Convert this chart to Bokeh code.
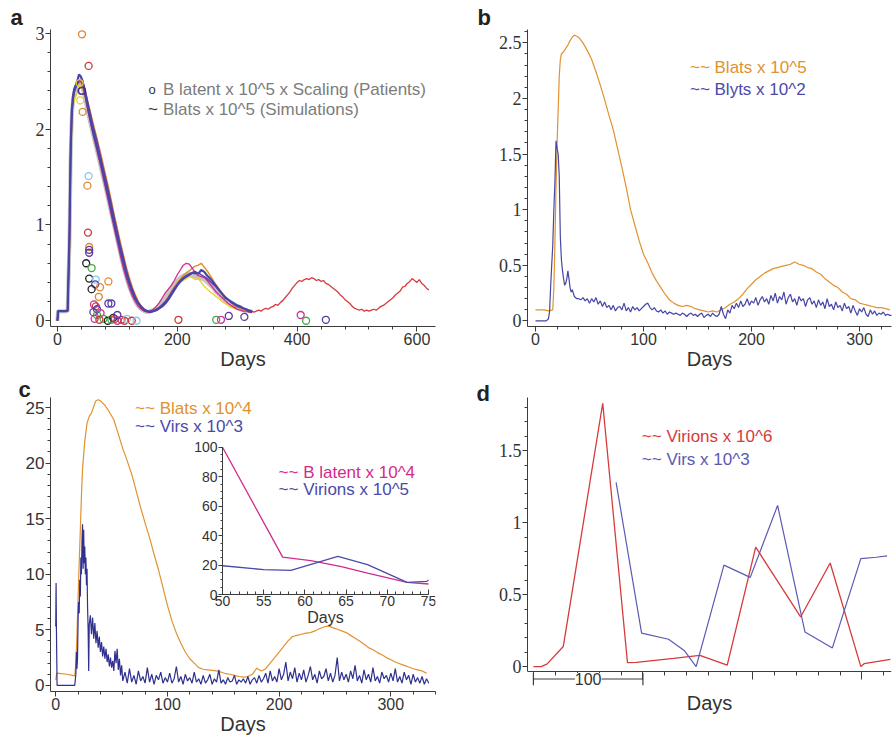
from bokeh.plotting import figure
from bokeh.models import Range1d, LinearAxis, SingleIntervalTicker, FixedTicker, Label
from bokeh.layouts import gridplot
from bokeh.embed import file_html
from bokeh.resources import INLINE

# ---------------- DATA ----------------
# Panel a: simulations (Blats x 10^5) on a shared day grid
a_days = [0, 1, 13, 17, 20, 22, 24, 26, 28, 30, 33, 36, 39, 42, 46, 50] + [55 + 5 * i for i in range(55)]
a_blue = [0.0, 0.1, 0.1, 0.11, 0.9, 1.8, 2.2, 2.35, 2.42, 2.45, 2.5, 2.57, 2.55, 2.5, 2.38, 2.25,
          2.1, 1.96, 1.84, 1.71, 1.58, 1.44, 1.3, 1.15, 1.01, 0.87,
          0.74, 0.61, 0.49, 0.39, 0.3, 0.23, 0.18, 0.14, 0.11, 0.1,
          0.09, 0.1, 0.11, 0.13, 0.15, 0.18, 0.22, 0.27, 0.32, 0.37,
          0.41, 0.44, 0.46, 0.48, 0.5, 0.51, 0.49, 0.53, 0.51, 0.47,
          0.44, 0.4, 0.36, 0.32, 0.28, 0.24, 0.22, 0.2, 0.18, 0.16,
          0.15, 0.13, 0.12, 0.1, 0.09]
a_purple = [0.0, 0.1, 0.1, 0.1, 0.8, 1.7, 2.15, 2.3, 2.38, 2.42, 2.47, 2.5, 2.52, 2.5, 2.42, 2.3,
            2.16, 2.02, 1.9, 1.77, 1.63, 1.5, 1.36, 1.22, 1.07, 0.93,
            0.79, 0.66, 0.53, 0.42, 0.33, 0.25, 0.19, 0.15, 0.12, 0.1,
            0.1, 0.1, 0.12, 0.14, 0.17, 0.2, 0.24, 0.29, 0.34, 0.38,
            0.42, 0.45, 0.47, 0.49, 0.5, 0.49, 0.5, 0.48, 0.46, 0.44,
            0.41, 0.38, 0.35, 0.31, 0.28, 0.25, 0.22, 0.19, 0.17, 0.15,
            0.14, 0.13, 0.12, 0.11, 0.1]
a_orange = [0.0, 0.1, 0.1, 0.1, 0.7, 1.6, 2.1, 2.3, 2.4, 2.45, 2.47, 2.48, 2.5, 2.47, 2.4, 2.3,
            2.18, 2.05, 1.93, 1.8, 1.67, 1.53, 1.4, 1.25, 1.1, 0.96,
            0.82, 0.69, 0.56, 0.45, 0.35, 0.27, 0.2, 0.15, 0.12, 0.1,
            0.09, 0.1, 0.11, 0.13, 0.16, 0.2, 0.25, 0.3, 0.35, 0.4,
            0.43, 0.47, 0.5, 0.52, 0.55, 0.57, 0.58, 0.6, 0.56, 0.52,
            0.47, 0.42, 0.37, 0.33, 0.29, 0.25, 0.22, 0.19, 0.16, 0.14,
            0.13, 0.12, 0.11, 0.1, 0.1]
a_magenta = [0.0, 0.1, 0.1, 0.1, 0.85, 1.75, 2.2, 2.33, 2.4, 2.44, 2.48, 2.52, 2.5, 2.45, 2.35, 2.22,
             2.07, 1.93, 1.8, 1.67, 1.53, 1.39, 1.25, 1.1, 0.96, 0.82,
             0.68, 0.55, 0.44, 0.34, 0.26, 0.2, 0.15, 0.12, 0.1, 0.09,
             0.1, 0.12, 0.15, 0.19, 0.24, 0.29, 0.33, 0.37, 0.42, 0.48,
             0.53, 0.58, 0.6, 0.59, 0.55, 0.5, 0.47, 0.46, 0.45, 0.42,
             0.38, 0.34, 0.3, 0.27, 0.24, 0.21, 0.18, 0.16, 0.14, 0.12,
             0.11, 0.1, 0.1, 0.09, 0.09]
a_gray = [0.0, 0.1, 0.1, 0.1, 0.8, 1.7, 2.15, 2.3, 2.37, 2.42, 2.45, 2.48, 2.47, 2.43, 2.33, 2.2,
          2.06, 1.93, 1.8, 1.67, 1.53, 1.4, 1.26, 1.12, 0.98, 0.84,
          0.7, 0.57, 0.45, 0.35, 0.27, 0.2, 0.15, 0.12, 0.1, 0.09,
          0.1, 0.11, 0.13, 0.16, 0.2, 0.24, 0.29, 0.34, 0.38, 0.42,
          0.45, 0.47, 0.48, 0.49, 0.48, 0.46, 0.45, 0.44, 0.43, 0.4,
          0.37, 0.34, 0.3, 0.27, 0.24, 0.21, 0.19, 0.17, 0.15, 0.13,
          0.12, 0.11, 0.1, 0.1, 0.1]
a_yellow = [0.0, 0.1, 0.1, 0.1, 0.75, 1.65, 2.1, 2.25, 2.3, 2.33, 2.38, 2.42, 2.44, 2.42, 2.35, 2.24,
            2.1, 1.97, 1.84, 1.71, 1.58, 1.44, 1.3, 1.16, 1.02, 0.88,
            0.74, 0.6, 0.48, 0.37, 0.28, 0.21, 0.16, 0.13, 0.11, 0.1,
            0.1, 0.12, 0.15, 0.13, 0.16, 0.2, 0.25, 0.3, 0.34, 0.38,
            0.4, 0.42, 0.44, 0.46, 0.45, 0.43, 0.44, 0.4, 0.36, 0.33,
            0.3, 0.28, 0.25, 0.23, 0.2, 0.18, 0.16, 0.14, 0.13, 0.12,
            0.11, 0.1, 0.1, 0.09, 0.09]
a_red_days = [300 + 4 * i for i in range(81)]
a_red = [0.15, 0.14, 0.13, 0.12, 0.11, 0.1, 0.1, 0.09, 0.1, 0.11,
         0.1, 0.12, 0.13, 0.12, 0.14, 0.15, 0.17, 0.16, 0.19, 0.21,
         0.24, 0.27, 0.3, 0.34, 0.37, 0.4, 0.42, 0.41, 0.43, 0.44,
         0.43, 0.45, 0.44, 0.42, 0.43, 0.41, 0.42, 0.39, 0.38, 0.36,
         0.34, 0.32, 0.3, 0.27, 0.25, 0.22, 0.2, 0.18, 0.15, 0.13,
         0.12, 0.11, 0.12, 0.1, 0.11, 0.1, 0.11, 0.12, 0.11, 0.13,
         0.15, 0.16, 0.18, 0.2, 0.22, 0.24, 0.27, 0.29, 0.31, 0.35,
         0.36, 0.39, 0.41, 0.44, 0.42, 0.4, 0.43, 0.39, 0.37, 0.34, 0.32]
# Panel a: patients (B latent x 10^5 x scaling)
a_pat_days = [41, 52, 37, 41, 40, 38, 42, 52, 50, 51, 53, 53, 53, 48, 57, 53, 64, 85, 63, 57,
              71, 69, 61, 64, 66, 85, 90, 60, 66, 72, 62, 70, 77, 84, 90, 93, 96, 100, 107, 112,
              116, 124, 132, 100, 202, 265, 273, 286, 312, 406, 415, 448]
a_pat_vals = [2.99, 2.66, 2.48, 2.4, 2.4, 2.3, 2.18, 1.51, 1.41, 0.92, 0.77, 0.74, 0.71, 0.6, 0.55, 0.44, 0.43, 0.41, 0.38, 0.33,
              0.35, 0.25, 0.17, 0.15, 0.12, 0.18, 0.18, 0.09, 0.06, 0.08, 0.02, 0.01, 0.02, 0.0, 0.01, 0.03, 0.02, 0.0, 0.01, 0.0,
              0.02, 0.0, 0.0, 0.06, 0.01, 0.01, 0.01, 0.05, 0.04, 0.06, 0.0, 0.01]
a_pat_group = ["orange", "red", "yellow", "black", "purple", "yellow", "orange", "cyan", "orange", "red",
               "orange", "purple", "purple", "black", "green", "black", "cyan", "orange", "purple", "black",
               "orange", "orange", "magenta", "red", "purple", "purple", "purple", "purple", "green", "magenta",
               "magenta", "red", "green", "black", "green", "black", "red", "magenta", "red", "red",
               "cyan", "red", "cyan", "purple", "red", "green", "magenta", "purple", "purple", "magenta",
               "green", "purple"]

# Panel b
b_blats_days = [0, 4, 8, 12, 16, 17, 18, 19, 20, 21, 22, 23, 24, 26, 28, 30, 32, 34, 36, 38] + [40 + 4 * i for i in range(73)]
b_blats = [0.1, 0.1, 0.1, 0.09, 0.1, 0.3, 0.7, 1.2, 1.6, 1.9, 2.2, 2.35, 2.4, 2.42, 2.45, 2.48, 2.52, 2.55, 2.57, 2.56,
           2.55, 2.5, 2.43, 2.35, 2.24, 2.12, 1.99, 1.85, 1.72, 1.55,
           1.38, 1.2, 1.0, 0.86, 0.72, 0.6, 0.52, 0.43, 0.36, 0.3,
           0.24, 0.19, 0.16, 0.14, 0.13, 0.14, 0.13, 0.11, 0.1, 0.09,
           0.08, 0.09, 0.08, 0.1, 0.12, 0.15, 0.17, 0.2, 0.24, 0.29,
           0.33, 0.37, 0.4, 0.43, 0.45, 0.47, 0.48, 0.49, 0.5, 0.51,
           0.53, 0.51, 0.5, 0.48, 0.47, 0.44, 0.42, 0.38, 0.35, 0.32,
           0.3, 0.26, 0.24, 0.2, 0.19, 0.16, 0.15, 0.14, 0.13, 0.12,
           0.12, 0.11, 0.1]
b_blyts_early_days = [0, 10, 12, 13, 14, 15, 16, 17, 18, 19, 20, 21, 22, 23, 24, 25, 26, 27, 28, 29, 30, 31, 32, 33, 34, 36, 38]
b_blyts_early = [0, 0, 0.02, 0.08, 0.3, 0.5, 0.68, 1.0, 1.25, 1.62, 1.55, 1.5, 1.3, 0.75, 0.55, 0.45, 0.38, 0.32, 0.34, 0.38,
                 0.45, 0.38, 0.3, 0.26, 0.28, 0.22, 0.2]
b_blyts_late = [0.2, 0.19, 0.21, 0.18, 0.2, 0.16, 0.2, 0.17, 0.21, 0.15, 0.18, 0.13, 0.17, 0.12, 0.14, 0.1,
                0.14, 0.09, 0.12, 0.13, 0.1, 0.16, 0.09, 0.12, 0.08, 0.13, 0.1, 0.12, 0.09, 0.11, 0.13, 0.15, 0.16, 0.12, 0.1, 0.12, 0.09, 0.08, 0.1, 0.07, 0.09, 0.06, 0.08, 0.07, 0.06, 0.07,
                0.06, 0.05, 0.07, 0.06, 0.04, 0.06, 0.07, 0.05, 0.06, 0.04, 0.06, 0.07, 0.03, 0.05, 0.06, 0.04, 0.07, 0.05, 0.04, 0.06,
                0.13, 0.06, 0.02, 0.1, 0.07, 0.14, 0.11, 0.16, 0.12, 0.18, 0.13, 0.15, 0.2, 0.14, 0.18,
                0.16, 0.21, 0.14, 0.19, 0.22, 0.17, 0.2, 0.15, 0.23, 0.18, 0.25, 0.16, 0.22, 0.19, 0.26, 0.15, 0.21, 0.24, 0.17, 0.2, 0.14, 0.22, 0.18, 0.2, 0.13, 0.19, 0.21, 0.15, 0.18, 0.12,
                0.19, 0.14, 0.17, 0.11, 0.2, 0.13, 0.15, 0.1, 0.17, 0.12, 0.14, 0.09, 0.16, 0.11, 0.13, 0.07, 0.14, 0.09, 0.05, 0.11, 0.08, 0.12, 0.06, 0.04, 0.1, 0.06, 0.09, 0.05, 0.07, 0.06, 0.08, 0.05, 0.06, 0.05, 0.05]
b_blyts_days = b_blyts_early_days + [40 + 2 * i for i in range(len(b_blyts_late))]
b_blyts = b_blyts_early + b_blyts_late

# Panel c
c_blats_days = [0, 1, 5, 10, 15, 17, 18, 19, 20, 21, 22, 23, 24, 26, 28, 30, 32, 34, 36, 38] + [40 + 4 * i for i in range(74)]
c_blats = [0.5, 1.1, 1.05, 1.0, 0.9, 0.85, 2.0, 4.5, 8.0, 11.0, 14.0, 17.0, 19.5, 22.0, 23.6, 24.2, 24.5, 25.1, 25.6, 25.7,
           25.6, 25.2, 24.6, 23.9, 22.6, 21.3, 20.2, 19.0, 17.5, 16.0,
           14.6, 13.3, 11.8, 10.4, 8.8, 7.2, 5.8, 4.7, 3.8, 3.0,
           2.4, 2.0, 1.6, 1.45, 1.4, 1.35, 1.3, 1.2, 1.05, 1.0,
           0.9, 0.8, 0.75, 0.8, 1.0, 1.55, 1.3, 1.5, 2.0, 2.5,
           3.0, 3.5, 4.0, 4.4, 4.5, 4.6, 4.7, 4.75, 4.9, 5.1,
           5.25, 5.35, 5.2, 5.05, 4.9, 4.75, 4.5, 4.25, 4.0, 3.7,
           3.4, 3.2, 2.95, 2.75, 2.5, 2.3, 2.1, 1.95, 1.8, 1.65,
           1.5, 1.4, 1.3, 1.1]
c_virs_early_days = [0, 0.3, 0.6, 1.2, 17, 18, 18.5, 19, 19.5, 20, 20.5, 21, 21.5, 22, 22.5, 23, 23.5, 24, 24.5, 25,
                     25.5, 26, 26.5, 27, 27.5, 28, 28.5, 29, 29.5]
c_virs_early = [5.3, 9.2, 5.0, 0.0, 0.0, 1.0, 3.0, 1.5, 2.5, 6.0, 7.5, 6.5, 9.5, 8.0, 11.5, 10.0, 13.0, 14.5, 10.5, 14.0,
                11.0, 12.5, 10.0, 11.5, 9.0, 10.5, 7.0, 5.0, 1.3]
c_virs_mid = [5.5, 6.3, 4.6, 6.1, 4.2, 5.6, 3.8, 4.9, 3.4, 4.4, 3.0, 3.9, 2.6, 3.5, 2.4, 3.3, 2.1, 2.8, 1.7, 2.5,
              1.6, 2.2, 1.3, 3.1, 2.0, 3.3, 1.4, 2.4, 0.9, 1.8, 0.4]
c_virs_late = [1.2, 0.2, 1.5, 0.3, 0.9, 0.1, 1.3, 0.4, 0.8, 0.2, 1.6, 0.3, 1.0, 0.1, 0.9, 0.5, 1.2, 0.2, 0.7, 0.3,
               1.1, 0.2, 0.6, 1.7, 0.3, 0.8, 0.1, 1.0, 0.4, 0.7, 0.2, 1.2, 0.3, 0.6, 0.1, 0.9, 0.2, 0.5, 1.0, 0.1,
               0.6, 0.3, 1.4, 0.2, 0.5, 0.1, 0.7, 0.3, 0.4, 0.9, 0.1, 0.5, 0.3, 0.6, 0.2, 0.8, 0.1, 0.5, 0.7, 0.2,
               0.9, 0.3, 0.6, 1.1, 0.2, 1.3, 0.4, 0.8, 0.3, 1.5, 0.5, 1.0, 2.1, 0.4, 1.2, 0.6, 1.6, 0.3, 1.1, 0.5,
               1.4, 0.3, 0.9, 1.7, 0.5, 1.0, 0.2, 1.3, 0.6, 0.8, 1.5, 0.4, 1.1, 0.3, 0.9, 2.5, 0.4, 1.2, 0.5, 1.0,
               0.3, 1.3, 0.6, 1.8, 0.4, 0.9, 0.2, 1.4, 0.5, 1.0, 0.3, 1.6, 0.4, 0.8, 0.2, 1.2, 0.6, 0.9, 0.3, 1.1,
               0.4, 1.5, 0.3, 0.8, 0.2, 1.2, 0.5, 0.9, 0.1, 1.0, 0.3, 0.7, 0.2, 0.8, 0.1, 0.6, 0.2]
c_virs_days = c_virs_early_days + [30 + i for i in range(len(c_virs_mid))] + [62 + 2 * i for i in range(len(c_virs_late))]
c_virs = c_virs_early + c_virs_mid + c_virs_late
# Panel c inset
inset_bl_days = [50, 57.3, 60.7, 64.3, 67.6, 72.4, 75]
inset_bl = [100, 25.4, 23, 19.1, 14.6, 8.3, 7.2]
inset_vir_days = [50, 55, 58.3, 64, 67.6, 72.4, 74.8, 75]
inset_vir = [19.6, 16.9, 16.4, 25.9, 20.3, 8.3, 9, 10]

# Panel d
d_virions_days = [0, 7, 12.3, 27.3, 63.3, 85.9, 94, 128, 152, 177, 203, 244, 271, 299, 302, 326]
d_virions = [0.0, 0.0, 0.017, 0.14, 1.83, 0.027, 0.03, 0.057, 0.078, 0.01, 0.83, 0.345, 0.72, 0.0, 0.02, 0.05]
d_virs_days = [75.5, 98.8, 123.4, 138, 148.6, 174, 198, 223, 248, 273, 299, 313, 323]
d_virs = [1.28, 0.233, 0.19, 0.11, 0.0, 0.705, 0.62, 1.12, 0.24, 0.13, 0.75, 0.76, 0.77]
d_minor_ticks = [0, 20, 40, 60, 80, 100, 120, 140, 160, 180, 200, 220, 240, 260, 280, 300, 320]
d_long_ticks = [100, 200, 300]
d_scale_bar = [0, 100]
d_scale_text = "100"

# ---------------- STYLE ----------------
AX = "#3c3c3c"
LBL = "#333333"
SANS = "Liberation Sans"
SERIF = "Liberation Serif"
ORANGE = "#e0922f"
BLUE = "#4646a6"
NAVY = "#30308e"
MAGENTA = "#d42a8e"
RED = "#d63a3a"
PURPLE = "#6a3aa6"
GRAY = "#c4c4c4"
YELLOW = "#e8cf22"
PAT_COLORS = {"orange": "#e08a30", "red": "#d03838", "yellow": "#e8cf22", "black": "#222222",
              "purple": "#5a3aa8", "cyan": "#86c8ea", "green": "#44a844", "magenta": "#d0309a"}


def make_fig(w, h, xr, yr, bl, br, bt, bb, letter, toff, tstand):
    p = figure(width=w, height=h, x_range=Range1d(*xr), y_range=Range1d(*yr),
               output_backend="svg", toolbar_location=None,
               min_border_left=bl, min_border_right=br, min_border_top=bt, min_border_bottom=bb)
    p.grid.visible = False
    p.outline_line_color = None
    p.title.text = letter
    p.title.text_font = SANS
    p.title.text_font_size = "22px"
    p.title.text_font_style = "bold"
    p.title.text_color = "#222222"
    p.title.align = "left"
    p.title.offset = toff
    p.title.standoff = tstand
    p.title.vertical_align = "bottom"
    return p


def style_axis(ax, font, size, mj=5, mn=3, mj_in=0, mn_in=0):
    ax.axis_line_color = AX
    ax.major_tick_line_color = AX
    ax.minor_tick_line_color = AX
    ax.major_tick_in = mj_in
    ax.major_tick_out = mj
    ax.minor_tick_in = mn_in
    ax.minor_tick_out = mn
    ax.major_label_text_font = font
    ax.major_label_text_font_size = size
    ax.major_label_text_color = LBL
    ax.major_label_standoff = 1


def days_label(ax, size="20px"):
    ax.axis_label = "Days"
    ax.axis_label_text_font = SANS
    ax.axis_label_text_font_size = size
    ax.axis_label_text_font_style = "normal"
    ax.axis_label_text_color = LBL
    ax.axis_label_standoff = 0


def legend_text(p, x, y, text, color, size="17px", **kw):
    p.add_layout(Label(x=x, y=y, text=text, text_color=color, text_font=SANS,
                       text_font_size=size, text_baseline="middle", **kw))


TOP_H = 378
BOT_H = 365

# ---------------- PANEL A ----------------
pa = make_fig(448, TOP_H, (-11.6, 631), (-0.06, 3.04), 50, 11, 28, 52, "a", -40, 0)
pa.xaxis[0].ticker = SingleIntervalTicker(interval=200, num_minor_ticks=5)
pa.yaxis[0].ticker = SingleIntervalTicker(interval=1, num_minor_ticks=5)
style_axis(pa.xaxis[0], SANS, "16px")
style_axis(pa.yaxis[0], SERIF, "18px")
days_label(pa.xaxis[0])
pa.line(a_days, a_gray, color=GRAY, line_width=4)
pa.line(a_red_days, a_red, color=RED, line_width=1.3)
pa.line(a_days, a_yellow, color=YELLOW, line_width=1.3)
pa.line(a_days, a_orange, color=ORANGE, line_width=1.5)
pa.line(a_days, a_magenta, color=MAGENTA, line_width=1.3)
pa.line(a_days, a_purple, color=PURPLE, line_width=1.5)
pa.line(a_days, a_blue, color=BLUE, line_width=2.2)
pa.scatter(a_pat_days, a_pat_vals, marker="circle", size=7, fill_color=None,
           line_color=[PAT_COLORS[g] for g in a_pat_group], line_width=1.3)
legend_text(pa, 152, 2.41, "o", "#333333", size="13px")
legend_text(pa, 176, 2.41, "B latent x 10^5 x Scaling (Patients)", "#7c7c7c")
legend_text(pa, 151, 2.21, "~", "#333333")
legend_text(pa, 176, 2.21, "Blats x 10^5 (Simulations)", "#7c7c7c")

# ---------------- PANEL B ----------------
pb = make_fig(448, TOP_H, (-7.4, 329.6), (-0.05, 2.62), 78, 5, 29, 52, "b", -50, 0)
pb.xaxis[0].ticker = SingleIntervalTicker(interval=100, num_minor_ticks=5)
pb.yaxis[0].ticker = SingleIntervalTicker(interval=0.5, num_minor_ticks=5)
pb.yaxis[0].major_label_overrides = {0: "0", 1: "1", 2: "2"}
style_axis(pb.xaxis[0], SANS, "16px")
style_axis(pb.yaxis[0], SERIF, "18px")
days_label(pb.xaxis[0])
pb.line(b_blats_days, b_blats, color=ORANGE, line_width=1.2)
pb.line(b_blyts_days, b_blyts, color=BLUE, line_width=1.2)
legend_text(pb, 143, 2.28, "~~ Blats x 10^5", ORANGE)
legend_text(pb, 143, 2.08, "~~ Blyts x 10^2", "#4a4aaa")

# ---------------- PANEL C ----------------
pc = make_fig(448, BOT_H, (-4.7, 340), (-0.55, 25.9), 49, 13, 17, 52, "c", -32, -8)
pc.xaxis[0].ticker = SingleIntervalTicker(interval=100, num_minor_ticks=5)
pc.yaxis[0].ticker = SingleIntervalTicker(interval=5, num_minor_ticks=5)
style_axis(pc.xaxis[0], SANS, "16px")
style_axis(pc.yaxis[0], SANS, "17px")
days_label(pc.xaxis[0])
pc.line(c_blats_days, c_blats, color=ORANGE, line_width=1.2)
pc.line(c_virs_days, c_virs, color=NAVY, line_width=1.2)
legend_text(pc, 71, 24.9, "~~ Blats x 10^4", ORANGE)
legend_text(pc, 71, 23.3, "~~ Virs x 10^3", "#4a4aaa")
# inset with its own ranges
pc.extra_x_ranges = {"ix": Range1d(29.12, 75.85)}
pc.extra_y_ranges = {"iy": Range1d(-65.7, 133.7)}
pc.line(inset_bl_days, inset_bl, x_range_name="ix", y_range_name="iy", color=MAGENTA, line_width=1.3)
pc.line(inset_vir_days, inset_vir, x_range_name="ix", y_range_name="iy", color="#4a4aaa", line_width=1.3)
ixax = LinearAxis(x_range_name="ix", y_range_name="iy", fixed_location=0, bounds=(50, 75),
                  ticker=SingleIntervalTicker(interval=5, num_minor_ticks=5))
style_axis(ixax, SANS, "14px", mj=0, mn=0, mj_in=5, mn_in=3)
days_label(ixax, size="16px")
pc.add_layout(ixax, "below")
iyax = LinearAxis(x_range_name="ix", y_range_name="iy", fixed_location=50, bounds=(0, 100),
                  ticker=SingleIntervalTicker(interval=20, num_minor_ticks=4))
style_axis(iyax, SANS, "14px", mj=4, mn=2)
pc.add_layout(iyax, "left")
legend_text(pc, 56.8, 83.1, "~~ B latent x 10^4", MAGENTA, x_range_name="ix", y_range_name="iy")
legend_text(pc, 56.8, 71.6, "~~ Virions x 10^5", "#4a4aaa", x_range_name="ix", y_range_name="iy")

# ---------------- PANEL D ----------------
pd = make_fig(448, BOT_H, (-5.4, 327), (-0.173, 1.87), 79, 1, 10, 24, "d", -51, -16)
xa = pd.xaxis[0]
xa.ticker = FixedTicker(ticks=[], minor_ticks=d_minor_ticks)
style_axis(xa, SANS, "14px", mj=8, mn=4)
xa.fixed_location = -0.031
xlong = LinearAxis(fixed_location=-0.031, ticker=FixedTicker(ticks=[], minor_ticks=d_long_ticks),
                   axis_line_color=None, minor_tick_line_color=AX, minor_tick_out=8, minor_tick_in=0,
                   major_tick_out=0, major_tick_in=0)
pd.add_layout(xlong, "below")
ya = pd.yaxis[0]
ya.ticker = SingleIntervalTicker(interval=0.5, num_minor_ticks=5)
ya.bounds = (-0.031, 1.87)
ya.major_label_overrides = {0: "0", 1: "1"}
style_axis(ya, SERIF, "18px")
dlab = LinearAxis(ticker=FixedTicker(ticks=[]), axis_line_color=None,
                  major_tick_out=0, minor_tick_out=0, major_tick_in=0, minor_tick_in=0)
days_label(dlab)
pd.add_layout(dlab, "below")
pd.line(d_virions_days, d_virions, color=RED, line_width=1.3)
pd.line(d_virs_days, d_virs, color="#5a5ab4", line_width=1.2)
# scale bar
pd.segment(x0=[d_scale_bar[0], d_scale_bar[0], d_scale_bar[1]], y0=[-0.086, -0.045, -0.045],
           x1=[d_scale_bar[1], d_scale_bar[0], d_scale_bar[1]], y1=[-0.086, -0.13, -0.13],
           color=AX, line_width=1.2)
pd.add_layout(Label(x=(d_scale_bar[0] + d_scale_bar[1]) / 2, y=-0.086, text=d_scale_text,
                    text_align="center", text_baseline="middle", text_font=SANS, text_font_size="16px",
                    text_color=LBL, background_fill_color="white"))
legend_text(pd, 99, 1.60, "~~ Virions x 10^6", RED)
legend_text(pd, 99, 1.44, "~~ Virs x 10^3", "#5a5ab4")

grid = gridplot([[pa, pb], [pc, pd]], toolbar_location=None)
open("out.html", "w").write(file_html(grid, INLINE))
